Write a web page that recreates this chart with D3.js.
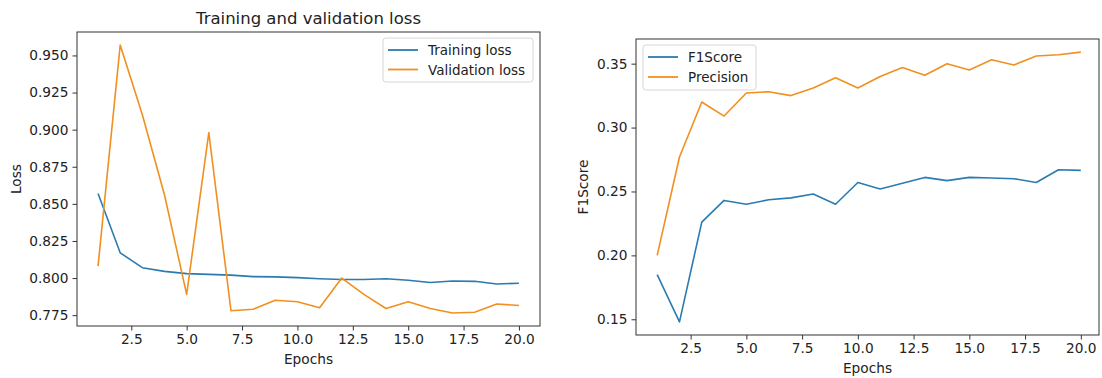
<!DOCTYPE html>
<html>
<head>
<meta charset="utf-8">
<script src="https://cdn.jsdelivr.net/npm/d3@7"></script>
<style>
  body { margin: 0; background: #fff; }
  svg text { font-family: "DejaVu Sans", sans-serif; fill: #222; }
  .axis path, .axis line { stroke: #333; }
</style>
</head>
<body>
<div id="chart"></div>
<script>
// values
const epochs = [1, 2, 3, 4, 5, 6, 7, 8, 9, 10, 11, 12, 13, 14, 15, 16, 17, 18, 19, 20];

const trainingLoss = [0.857, 0.817, 0.807, 0.8045, 0.803, 0.8025, 0.802, 0.801, 0.8008, 0.8003,
  0.7995, 0.799, 0.799, 0.7995, 0.7985, 0.797, 0.798, 0.7978, 0.796, 0.7965];
const validationLoss = [0.808, 0.957, 0.910, 0.856, 0.789, 0.898, 0.778, 0.779, 0.785, 0.784,
  0.780, 0.800, 0.789, 0.7795, 0.784, 0.7795, 0.7765, 0.777, 0.7825, 0.7815];

const f1Score = [0.185, 0.148, 0.226, 0.243, 0.240, 0.2435, 0.245, 0.248, 0.240, 0.257,
  0.252, 0.2565, 0.261, 0.2585, 0.261, 0.2605, 0.260, 0.257, 0.267, 0.2665];
const precision = [0.200, 0.277, 0.320, 0.309, 0.327, 0.328, 0.325, 0.331, 0.339, 0.331,
  0.340, 0.347, 0.341, 0.350, 0.345, 0.353, 0.349, 0.356, 0.357, 0.359];

const xTicks = [2.5, 5.0, 7.5, 10.0, 12.5, 15.0, 17.5, 20.0];
const lossTicks = [0.775, 0.800, 0.825, 0.850, 0.875, 0.900, 0.925, 0.950];
const scoreTicks = [0.15, 0.20, 0.25, 0.30, 0.35];

const blue = "#2b7bb0";
const orange = "#f0901f";

var w = 1102;
var h = 378;

var svg = d3.select("#chart").append("svg")
    .attr("width", w)
    .attr("height", h);

function drawPanel(opts) {
    var x = d3.scaleLinear().domain([0.05, 20.95]).range([opts.left, opts.right]);
    var y = d3.scaleLinear().domain(opts.yDomain).range([opts.bottom, opts.top]);
    var g = svg.append("g");

    var xAxis = g.append("g")
        .attr("class", "axis")
        .attr("transform", `translate(0,${opts.bottom})`)
        .call(d3.axisBottom(x).tickValues(xTicks).tickFormat(d3.format(".1f")).tickSize(4.5).tickPadding(4));
    var yAxis = g.append("g")
        .attr("class", "axis")
        .attr("transform", `translate(${opts.left},0)`)
        .call(d3.axisLeft(y).tickValues(opts.yTicks).tickFormat(d3.format(opts.yFormat)).tickSize(4.5).tickPadding(4));
    g.selectAll(".axis .domain").remove();
    g.selectAll(".axis text").style("font-size", "13.7px").style("fill", "#222");

    // frame
    g.append("rect")
        .attr("x", opts.left)
        .attr("y", opts.top)
        .attr("width", opts.frameRight - opts.left)
        .attr("height", opts.bottom - opts.top)
        .attr("fill", "none")
        .attr("stroke", "#333")
        .attr("stroke-width", 1);

    var line = d3.line()
        .x((d, i) => x(epochs[i]))
        .y(d => y(d));

    opts.series.forEach(s => {
        g.append("path")
            .datum(s.values)
            .attr("fill", "none")
            .attr("stroke", s.color)
            .attr("stroke-width", 1.6)
            .attr("stroke-linejoin", "round")
            .attr("d", line);
    });

    g.append("text")
        .attr("x", (opts.left + opts.frameRight) / 2)
        .attr("y", opts.bottom + 38)
        .style("text-anchor", "middle")
        .style("font-size", "13.7px")
        .text("Epochs");

    g.append("text")
        .attr("transform", "rotate(-90)")
        .attr("x", -(opts.top + opts.bottom) / 2)
        .attr("y", opts.yLabelX)
        .style("text-anchor", "middle")
        .style("font-size", "13.7px")
        .text(opts.yLabel);

    if (opts.title) {
        g.append("text")
            .attr("x", (opts.left + opts.frameRight) / 2)
            .attr("y", 24)
            .style("text-anchor", "middle")
            .style("font-size", "16.5px")
            .text(opts.title);
    }

    // legend
    var lg = opts.legend;
    g.append("rect")
        .attr("x", lg.x)
        .attr("y", lg.y)
        .attr("width", lg.w)
        .attr("height", lg.h)
        .attr("rx", 3)
        .attr("fill", "#fff")
        .attr("stroke", "#d6d6d6");
    opts.series.forEach((s, i) => {
        var ly = lg.y + 12 + i * lg.step;
        g.append("line")
            .attr("x1", lg.x + 5).attr("x2", lg.x + 35)
            .attr("y1", ly).attr("y2", ly)
            .attr("stroke", s.color)
            .attr("stroke-width", 1.8);
        g.append("text")
            .attr("x", lg.x + 45)
            .attr("y", ly + 5)
            .style("font-size", "13.5px")
            .text(s.name);
    });
}

drawPanel({
    left: 77, right: 540, frameRight: 540, top: 32, bottom: 326,
    yDomain: [0.7677, 0.9658],
    yTicks: lossTicks, yFormat: ".3f",
    yLabel: "Loss", yLabelX: 21,
    title: "Training and validation loss",
    series: [
        { name: "Training loss", values: trainingLoss, color: blue },
        { name: "Validation loss", values: validationLoss, color: orange }
    ],
    legend: { x: 383, y: 38, w: 150, h: 44, step: 19.5 }
});

drawPanel({
    left: 636, right: 1102, frameRight: 1099, top: 39, bottom: 335,
    yDomain: [0.1377, 0.3693],
    yTicks: scoreTicks, yFormat: ".2f",
    yLabel: "F1Score", yLabelX: 588,
    series: [
        { name: "F1Score", values: f1Score, color: blue },
        { name: "Precision", values: precision, color: orange }
    ],
    legend: { x: 643, y: 45, w: 113, h: 45, step: 20 }
});
</script>
</body>
</html>
